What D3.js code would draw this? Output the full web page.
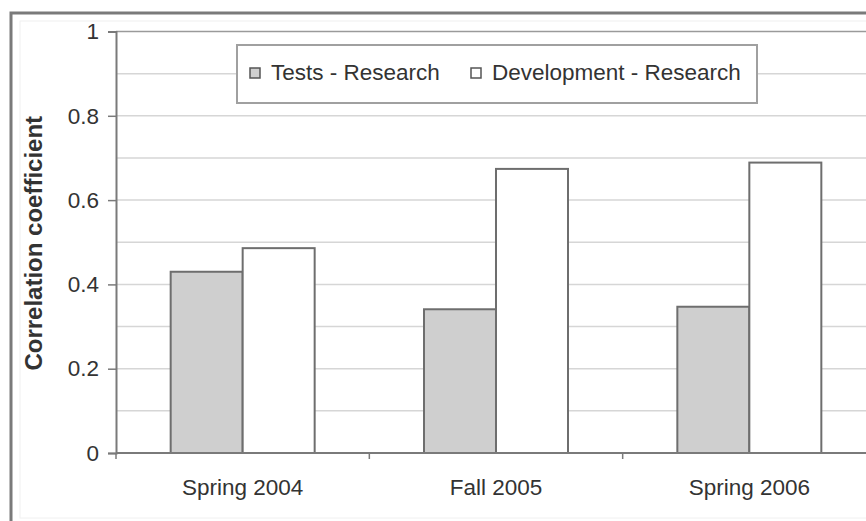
<!DOCTYPE html>
<html>
<head>
<meta charset="utf-8">
<script src="https://cdn.jsdelivr.net/npm/d3@7"></script>
<style>
  html, body { margin: 0; padding: 0; background: #fff; }
  svg { display: block; }
  text { font-family: "Liberation Sans", Arial, sans-serif; fill: #333; }
</style>
</head>
<body>
<svg id="chart" width="866" height="521"></svg>
<script>
// Semesters on the category axis
const categories = ["Spring 2004", "Fall 2005", "Spring 2006"];
// Correlation series
const seriesNames = ["Tests - Research", "Development - Research"];
const testsResearch = [0.43, 0.341, 0.347];
const developmentResearch = [0.486, 0.674, 0.689];
// Y axis labels
const yTickValues = [0, 0.2, 0.4, 0.6, 0.8, 1];
const yTickLabels = ["0", "0.2", "0.4", "0.6", "0.8", "1"];
const gridValues = [0.1, 0.2, 0.3, 0.4, 0.5, 0.6, 0.7, 0.8, 0.9];

const seriesValues = [testsResearch, developmentResearch];
const fills = ["#cfcfcf", "#ffffff"];

const svg = d3.select("#chart");

// chart frame (the right and bottom sides fall outside the window)
svg.append("rect")
  .attr("x", 20).attr("y", 21).attr("width", 1000).attr("height", 497)
  .attr("fill", "none").attr("stroke", "#f0f0f0").attr("stroke-width", 1);
svg.append("rect")
  .attr("x", 11).attr("y", 13).attr("width", 1000).attr("height", 1000)
  .attr("fill", "none").attr("stroke", "#7a7a7a").attr("stroke-width", 3);

const plot = { left: 116, right: 876, top: 31.5, bottom: 453 };

const y = d3.scaleLinear().domain([0, 1]).range([plot.bottom, plot.top]);
const x0 = d3.scaleBand().domain(categories)
  .range([plot.left, plot.right])
  .paddingInner(0.4316).paddingOuter(0.2158);
const x1 = d3.scaleBand().domain(seriesNames).range([0, x0.bandwidth()]);

// horizontal gridlines
svg.append("g").selectAll("line").data(gridValues).join("line")
  .attr("x1", plot.left).attr("x2", plot.right)
  .attr("y1", d => y(d)).attr("y2", d => y(d))
  .attr("stroke", "#d6d6d6").attr("stroke-width", 1.5);
svg.append("line")
  .attr("x1", plot.left).attr("x2", plot.right)
  .attr("y1", y(1)).attr("y2", y(1))
  .attr("stroke", "#9a9a9a").attr("stroke-width", 1.5);

// bars
const groups = svg.append("g").selectAll("g").data(categories).join("g")
  .attr("transform", d => `translate(${x0(d)},0)`);
groups.selectAll("rect")
  .data((c, i) => seriesNames.map((s, j) => ({ s, v: seriesValues[j][i], j })))
  .join("rect")
  .attr("x", d => x1(d.s))
  .attr("width", x1.bandwidth())
  .attr("y", d => y(d.v))
  .attr("height", d => y(0) - y(d.v))
  .attr("fill", d => fills[d.j])
  .attr("stroke", "#6e6e6e").attr("stroke-width", 2);

// y axis
const yAxis = d3.axisLeft(y).tickValues(yTickValues)
  .tickFormat((d, i) => yTickLabels[i]).tickSize(8).tickPadding(9);
const yg = svg.append("g").attr("transform", `translate(${plot.left},0)`).call(yAxis);
yg.select(".domain").attr("stroke", "#7a7a7a").attr("stroke-width", 2);
yg.selectAll(".tick line").attr("stroke", "#7a7a7a").attr("stroke-width", 1.5);
yg.selectAll(".tick text").attr("font-size", 22.5).attr("fill", "#333")
  .attr("font-family", "'Liberation Sans', Arial, sans-serif");

// x axis with ticks between categories
const xg = svg.append("g").attr("transform", `translate(0,${plot.bottom})`);
xg.append("line").attr("x1", plot.left).attr("x2", plot.right)
  .attr("stroke", "#7a7a7a").attr("stroke-width", 2);
const step = x0.step();
const boundaries = categories.map((c, i) => plot.left + i * step).concat([plot.right]);
xg.selectAll("line.sep").data(boundaries).join("line").attr("class", "sep")
  .attr("x1", d => d).attr("x2", d => d).attr("y1", 0).attr("y2", 6)
  .attr("stroke", "#7a7a7a").attr("stroke-width", 1.5);
xg.selectAll("text").data(categories).join("text")
  .attr("x", d => x0(d) + x0.bandwidth() / 2)
  .attr("y", 42)
  .attr("text-anchor", "middle")
  .attr("font-size", 22.5)
  .text(d => d);

// y axis title
svg.append("text")
  .attr("transform", `translate(42,${(plot.top + plot.bottom) / 2 + 1}) rotate(-90)`)
  .attr("text-anchor", "middle")
  .attr("font-size", 24).attr("font-weight", "bold").attr("fill", "#222")
  .text("Correlation coefficient");

// legend
const legend = svg.append("g");
legend.append("rect")
  .attr("x", 237).attr("y", 45).attr("width", 520).attr("height", 58)
  .attr("fill", "#fff").attr("stroke", "#a0a0a0").attr("stroke-width", 2);
const legendX = [250, 471];
seriesNames.forEach((name, i) => {
  legend.append("rect")
    .attr("x", legendX[i]).attr("y", 68).attr("width", 10).attr("height", 10)
    .attr("fill", fills[i]).attr("stroke", "#555").attr("stroke-width", 1.5);
  legend.append("text")
    .attr("x", legendX[i] + 21).attr("y", 80)
    .attr("font-size", 22.5)
    .text(name);
});
</script>
</body>
</html>
